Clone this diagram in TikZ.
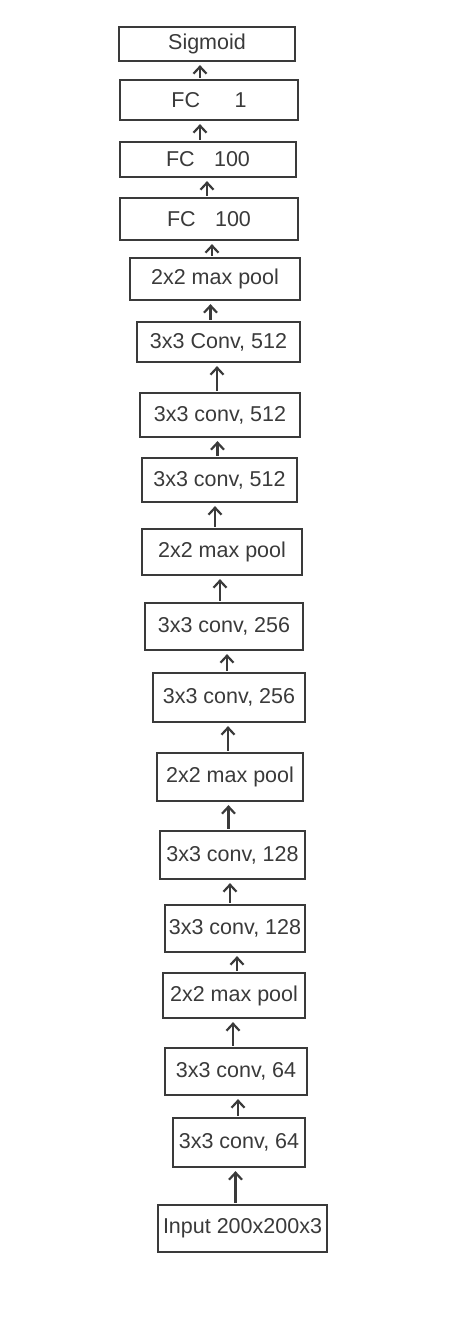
\documentclass[tikz,border=0pt]{standalone}
\usepackage{fontspec}
\setmainfont{Liberation Sans}
\usetikzlibrary{arrows.meta}
\definecolor{ink}{HTML}{3A3A3A}
\begin{document}
\begin{tikzpicture}[x=1pt,y=-1pt,
  layer/.style={draw=ink,line width=2.2pt,text=ink,inner sep=0pt,
    font=\fontsize{21.5}{25}\selectfont},
  arr/.style={draw=ink,line width=2.2pt,-{Straight Barb[length=7pt,width=13pt,line width=2.2pt]},shorten <=1pt,shorten >=3pt}]
\useasboundingbox[fill=white] (0,0) rectangle (453,1323);
% name / center x / center y / width / height / text
\foreach \n/\cx/\cy/\w/\h/\t in {
  sig/207/44/176/34/{Sigmoid},
  fca/209/100/178/40/{FC\hspace{1.6em}1},
  fcb/208/159.5/176/35/{FC\hspace{0.9em}100},
  fcc/209/219/178/42/{FC\hspace{0.9em}100},
  mpd/215/279/170/42/{2x2 max pool},
  cdc/218.5/342/163/40/{3x3 Conv, 512},
  cdb/220/415/160/44/{3x3 conv, 512},
  cda/219.5/480/155/44/{3x3 conv, 512},
  mpc/222/552/160/46/{2x2 max pool},
  ccb/224/626.5/158/47/{3x3 conv, 256},
  cca/229/697.5/152/49/{3x3 conv, 256},
  mpb/230/777/146/48/{2x2 max pool},
  cbb/232.5/855/145/48/{3x3 conv, 128},
  cba/235/928.5/140/47/{3x3 conv, 128},
  mpa/234/995.5/142/45/{2x2 max pool},
  cab/236/1071.5/142/47/{3x3 conv, 64},
  caa/239/1142.5/132/49/{3x3 conv, 64},
  inp/242.5/1228.5/169/47/{Input 200x200x3}}
{
  \node[layer,minimum width=\w pt,minimum height=\h pt] (\n) at (\cx,\cy) {\t};
}
% lower / upper / x-shift of the arrow
\foreach \a/\b/\s in {
  fca/sig/-9, fcb/fca/-8, fcc/fcb/-2, mpd/fcc/-3, cdc/mpd/-8,
  cdb/cdc/-3, cda/cdb/-2, mpc/cda/-7, ccb/mpc/-4, cca/ccb/-2,
  mpb/cca/-2, cbb/mpb/-4, cba/cbb/-5, mpa/cba/3, cab/mpa/-3,
  caa/cab/-1, inp/caa/-7}
{
  \draw[arr] ([xshift=\s pt]\a.north) -- ([xshift=\s pt]\a.north |- \b.south);
}
\end{tikzpicture}
\end{document}
